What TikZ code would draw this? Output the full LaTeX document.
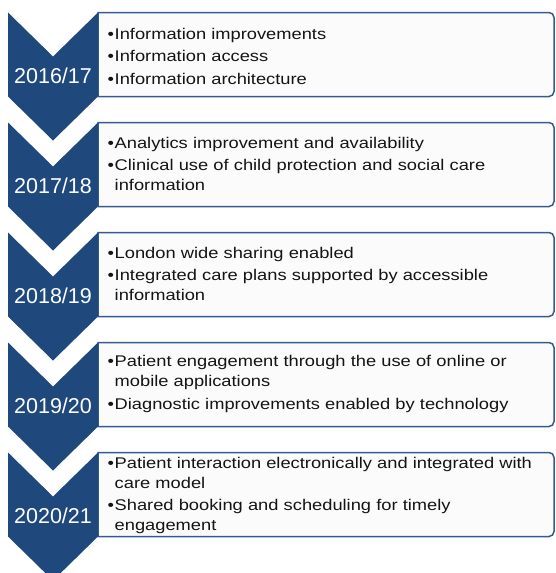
\documentclass[tikz,border=0pt]{standalone}
\usepackage{fontspec}
\setmainfont{Liberation Sans}
\newfontfamily\bodyf[FakeStretch=1.18]{Liberation Sans}
\newfontfamily\yearf{Liberation Sans}
\definecolor{chevblue}{RGB}{31,73,125}
\definecolor{boxline}{RGB}{52,90,145}
\definecolor{boxfill}{RGB}{251,251,251}
\definecolor{txtcol}{RGB}{20,20,20}
\newcommand\bfirst{\leavevmode\makebox[7pt][l]{•}}
\newcommand\bl{\par\vspace{2.5pt}\bfirst}
\newcommand\nl{\hfil\break\hspace*{7pt}}
\newcommand\tlbox[1]{\draw[tbox] (98,#1) -- (549,#1) arc[start angle=90,end angle=0,radius=5pt] -- (554,#1+79) arc[start angle=0,end angle=-90,radius=5pt] -- (98,#1+84) -- cycle;}
\newcommand\chevron[1]{\fill[chev] (8,#1) -- (53,#1+44) -- (98,#1) -- (98,#1+84) -- (53,#1+128) -- (8,#1+84) -- cycle;}
\begin{document}
\begin{tikzpicture}[x=1pt,y=-1pt,
  tbox/.style={draw=boxline,line width=1.5pt,fill=boxfill},
  chev/.style={fill=chevblue},
  txt/.style={anchor=base west,text width=445pt,inner sep=0pt,align=left,text=txtcol,
    font=\bodyf\fontsize{15.5pt}{20pt}\selectfont},
  yr/.style={anchor=base,inner sep=0pt,text=white,font=\yearf\fontsize{21.5pt}{24pt}\selectfont}]
\useasboundingbox (0,0) rectangle (556,573);
\clip (0,0) rectangle (556,573);
\tlbox{12.5}
\tlbox{122.5}
\tlbox{232.5}
\tlbox{342.5}
\tlbox{452.5}
\chevron{12.5}
\chevron{122.5}
\chevron{232.5}
\chevron{342.5}
\chevron{452.5}
\node[yr] (y1) at (53,83) {2016/17};
\node[yr] (y2) at (53,193) {2017/18};
\node[yr] (y3) at (53,303) {2018/19};
\node[yr] (y4) at (53,413) {2019/20};
\node[yr] (y5) at (53,523) {2020/21};
\node[txt] (t1) at (107.5,39) {\bfirst Information improvements\bl Information access\bl Information architecture};
\node[txt] (t2) at (107.5,148.3) {\bfirst Analytics improvement and availability\bl Clinical use of child protection and social care\nl information};
\node[txt] (t3) at (107.5,258.3) {\bfirst London wide sharing enabled\bl Integrated care plans supported by accessible\nl information};
\node[txt] (t4) at (107.5,366.5) {\bfirst Patient engagement through the use of online or\nl mobile applications\bl Diagnostic improvements enabled by technology};
\node[txt] (t5) at (107.5,468.3) {\bfirst Patient interaction electronically and integrated with\nl care model\bl Shared booking and scheduling for timely\nl engagement};
\end{tikzpicture}
\end{document}
